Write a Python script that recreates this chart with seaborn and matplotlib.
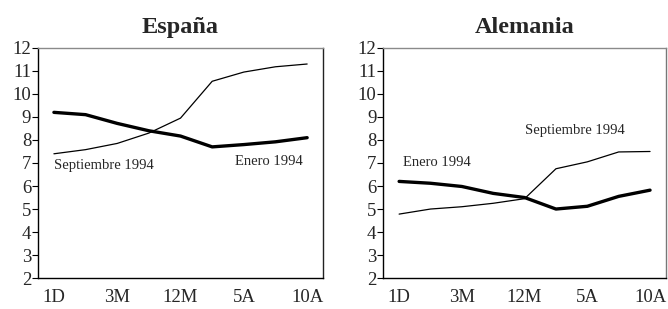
import matplotlib
matplotlib.use("Agg")
import matplotlib.pyplot as plt
import seaborn as sns
import pandas as pd
import numpy as np

# Plazos (categorías del eje X); sólo se rotulan algunos
plazos = ["1D", "1M", "3M", "6M", "12M", "2A", "5A", "7A", "10A"]
etiquetas_x = ["1D", "", "3M", "", "12M", "", "5A", "", "10A"]

espana_enero = [9.20, 9.10, 8.72, 8.40, 8.17, 7.70, 7.80, 7.92, 8.10]
espana_sept = [7.40, 7.58, 7.85, 8.30, 8.95, 10.55, 10.95, 11.18, 11.30]

alemania_enero = [6.20, 6.12, 5.98, 5.68, 5.50, 5.00, 5.12, 5.55, 5.82]
alemania_sept = [4.78, 5.00, 5.10, 5.25, 5.45, 6.75, 7.05, 7.48, 7.50]

titulos = ["España", "Alemania"]
yticks = list(range(2, 13))

sns.set_style("white")
plt.rcParams['font.family'] = ['Liberation Serif', 'DejaVu Serif']

fig = plt.figure(figsize=(6.68, 3.09), dpi=100)
ax1 = fig.add_axes([0.057, 0.100, 0.4265, 0.745])
ax2 = fig.add_axes([0.574, 0.100, 0.4226, 0.745])

pos = np.arange(len(plazos))

def panel(ax, titulo, enero, sept, txt):
    df = pd.DataFrame({"pos": pos, "Enero 1994": enero, "Septiembre 1994": sept})
    sns.lineplot(data=df, x="pos", y="Septiembre 1994", ax=ax, color="black", linewidth=0.9)
    sns.lineplot(data=df, x="pos", y="Enero 1994", ax=ax, color="black", linewidth=2.4)
    ax.set_xlim(-0.5, len(plazos) - 0.5)
    ax.set_ylim(2, 12)
    ax.set_yticks(yticks)
    ax.set_yticklabels([str(v) for v in yticks], fontsize=13.5)
    ax.set_xticks(pos[::2])
    ax.set_xticklabels([e for e in etiquetas_x if e], fontsize=13.5)
    ax.set_xticks(pos[:-1] + 0.5, minor=True)
    ax.tick_params(axis='x', which='major', length=0, pad=8)
    ax.tick_params(axis='x', which='minor', direction='in', length=3.5, width=0.8, color='black')
    ax.tick_params(axis='y', which='major', direction='out', length=4, width=0.8, color='black', pad=1.0, left=True)
    ax.set_xlabel("")
    ax.set_ylabel("")
    ax.set_title(titulo, fontsize=17.5, fontweight='bold', pad=11)
    for s in ['left', 'bottom']:
        ax.spines[s].set_color('black')
        ax.spines[s].set_linewidth(1.0)
    ax.spines['top'].set_color('#8a8a8a')
    ax.spines['top'].set_linewidth(1.0)
    ax.spines['right'].set_color('#222222')
    ax.spines['right'].set_linewidth(1.0)
    for (x, y, s, ha) in txt:
        ax.text(x, y, s, fontsize=10.5, ha=ha, va='center')

panel(ax1, titulos[0], espana_enero, espana_sept,
      [(0.0, 6.87, "Septiembre 1994", 'left'), (6.8, 7.05, "Enero 1994", 'center')])
panel(ax2, titulos[1], alemania_enero, alemania_sept,
      [(0.13, 7.01, "Enero 1994", 'left'), (4.0, 8.39, "Septiembre 1994", 'left')])
ax2.spines['right'].set_color('#777777')

fig.savefig("out.png", dpi=100)
